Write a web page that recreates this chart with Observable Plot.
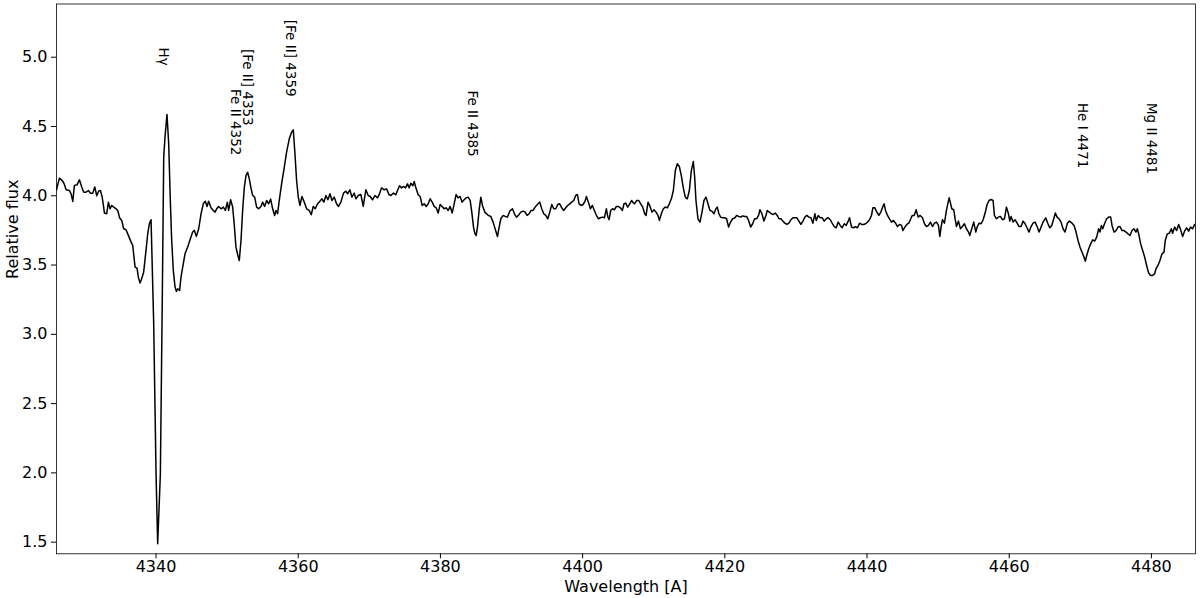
<!DOCTYPE html>
<html><head><meta charset="utf-8">
<script src="https://cdn.jsdelivr.net/npm/d3@7"></script>
<script src="https://cdn.jsdelivr.net/npm/@observablehq/plot@0.6"></script>
<style>html,body{margin:0;padding:0;background:#fff;}</style>
</head><body><div id="chart"></div>
<script>
// [wavelength (Å), relative flux]
const spectrum = [
[4326.0,4.043],[4326.41,4.127],[4326.88,4.106],[4327.11,4.082],[4327.35,4.043],[4327.82,4.038],[4328.05,4.014],[4328.29,3.959],[4328.52,4.075],[4328.89,4.079],[4329.22,4.115],[4329.55,4.063],[4329.83,4.026],[4330.16,4.026],[4330.49,4.038],[4330.77,4.019],[4331.10,4.019],[4331.38,4.063],[4331.66,4.000],[4331.94,4.034],[4332.17,4.038],[4332.41,3.995],[4332.60,3.930],[4332.74,3.875],[4333.06,3.870],[4333.30,3.954],[4333.53,3.906],[4333.77,3.930],[4334.05,3.918],[4334.38,3.906],[4334.61,3.894],[4334.89,3.839],[4335.17,3.822],[4335.45,3.762],[4335.78,3.755],[4336.11,3.714],[4336.39,3.678],[4336.72,3.642],[4337.05,3.485],[4337.33,3.478],[4337.51,3.413],[4337.75,3.370],[4337.98,3.401],[4338.26,3.449],[4338.59,3.606],[4338.83,3.726],[4339.06,3.798],[4339.30,3.827],[4339.67,3.076],[4340.00,1.994],[4340.23,1.489],[4340.61,1.994],[4340.89,3.317],[4341.08,4.279],[4341.26,4.423],[4341.54,4.587],[4341.78,4.375],[4342.01,3.966],[4342.20,3.678],[4342.43,3.461],[4342.67,3.341],[4342.86,3.310],[4343.04,3.329],[4343.32,3.317],[4343.51,3.413],[4343.75,3.485],[4344.08,3.582],[4344.45,3.630],[4344.83,3.690],[4345.15,3.738],[4345.39,3.750],[4345.67,3.707],
[4346.00,3.762],[4346.33,3.870],[4346.65,3.942],[4346.93,3.961],[4347.17,3.923],[4347.40,3.961],[4347.73,3.913],[4347.96,3.899],[4348.29,3.882],[4348.53,3.906],[4348.81,3.923],[4349.14,3.906],[4349.46,3.918],[4349.75,3.894],[4350.03,3.954],[4350.21,3.894],[4350.49,3.971],[4350.78,3.918],[4351.01,3.786],[4351.24,3.629],[4351.48,3.576],[4351.71,3.533],[4351.95,3.677],[4352.18,3.894],[4352.42,4.062],[4352.65,4.146],[4352.88,4.170],[4353.12,4.122],[4353.35,4.057],[4353.59,4.002],[4353.87,3.990],[4354.15,3.918],[4354.43,3.906],[4354.76,3.923],[4354.99,3.954],[4355.27,3.923],[4355.55,3.966],[4355.83,3.942],[4356.12,3.976],[4356.40,3.906],[4356.68,3.858],[4356.87,3.894],[4357.10,3.870],[4357.33,3.966],[4357.66,4.086],[4358.04,4.206],[4358.36,4.315],[4358.74,4.411],[4359.07,4.459],[4359.30,4.476],[4359.54,4.303],[4359.77,4.110],[4360.01,3.990],[4360.24,3.930],[4360.52,3.995],[4360.85,3.954],[4361.18,3.906],[4361.55,3.894],[4361.83,3.863],[4362.11,3.923],[4362.39,3.906],[4362.72,3.942],[4363.05,3.961],[4363.33,3.978],[4363.61,3.954],[4363.89,4.002],[4364.17,3.971],[4364.46,4.014],[4364.74,3.966],[4365.07,3.990],[4365.39,3.942],[4365.67,3.923],[4366.00,3.954],
[4366.37,4.019],[4366.70,4.033],[4366.94,4.014],[4367.26,4.043],[4367.55,3.990],[4367.87,4.019],[4368.11,3.978],[4368.44,4.002],[4368.81,4.009],[4369.14,3.923],[4369.51,4.043],[4369.84,4.002],[4370.12,3.995],[4370.45,3.971],[4370.78,4.002],[4371.15,3.985],[4371.43,4.014],[4371.72,4.057],[4372.09,4.043],[4372.42,4.050],[4372.75,4.009],[4373.03,4.002],[4373.40,4.019],[4373.73,4.007],[4373.96,4.038],[4374.25,4.072],[4374.53,4.057],[4374.81,4.067],[4375.09,4.057],[4375.37,4.086],[4375.60,4.057],[4375.84,4.091],[4376.12,4.072],[4376.31,4.103],[4376.59,4.050],[4376.87,4.007],[4377.15,3.995],[4377.43,3.930],[4377.71,3.942],[4378.00,3.923],[4378.28,3.942],[4378.56,3.978],[4378.84,3.954],[4379.12,3.923],[4379.40,3.913],[4379.68,3.875],[4379.96,3.937],[4380.24,3.923],[4380.52,3.906],[4380.80,3.913],[4381.09,3.894],[4381.37,3.923],[4381.65,3.875],[4381.93,3.942],[4382.21,4.009],[4382.49,3.985],[4382.77,3.995],[4383.05,3.954],[4383.33,3.971],[4383.62,3.985],[4383.90,3.990],[4384.18,3.966],[4384.41,3.882],[4384.65,3.774],[4384.83,3.730],[4385.02,3.713],[4385.21,3.774],[4385.44,3.894],[4385.68,3.990],[4385.91,3.930],[4386.24,3.882],
[4386.76,3.858],[4387.08,3.851],[4387.41,3.810],[4387.69,3.762],[4388.02,3.706],[4388.26,3.774],[4388.49,3.834],[4388.82,3.858],[4389.10,3.851],[4389.43,3.846],[4389.75,3.889],[4390.13,3.906],[4390.41,3.870],[4390.69,3.846],[4390.97,3.858],[4391.30,3.882],[4391.63,3.889],[4391.91,3.882],[4392.19,3.858],[4392.47,3.870],[4392.75,3.894],[4393.03,3.894],[4393.32,3.918],[4393.64,3.937],[4393.97,3.954],[4394.25,3.906],[4394.53,3.870],[4394.81,3.858],[4395.10,3.834],[4395.38,3.882],[4395.66,3.937],[4395.94,3.906],[4396.22,3.906],[4396.50,3.937],[4396.78,3.942],[4397.06,3.913],[4397.34,3.894],[4397.62,3.913],[4397.91,3.930],[4398.19,3.942],[4398.47,3.954],[4398.75,3.966],[4399.03,4.002],[4399.27,4.009],[4399.50,3.942],[4399.78,3.930],[4400.06,3.937],[4400.34,3.961],[4400.53,3.995],[4400.81,3.954],[4401.09,3.906],[4401.37,3.930],[4401.65,3.894],[4401.94,3.858],[4402.22,3.834],[4402.50,3.841],[4402.78,3.846],[4403.06,3.841],[4403.34,3.906],[4403.53,3.851],[4403.72,3.827],[4403.95,3.894],[4404.19,3.906],[4404.47,3.899],[4404.75,3.923],[4405.03,3.923],[4405.31,3.913],[4405.59,3.894],[4405.82,3.942],[4406.06,3.947],[4406.34,3.918],[4406.62,3.942],[4406.90,3.966],
[4407.04,3.954],[4407.32,3.942],[4407.60,3.966],[4407.88,3.966],[4408.17,3.942],[4408.45,3.918],[4408.73,3.870],[4408.92,3.858],[4409.20,3.954],[4409.48,3.923],[4409.76,3.882],[4410.04,3.899],[4410.32,3.882],[4410.60,3.858],[4410.79,3.822],[4411.07,3.870],[4411.35,3.906],[4411.63,3.918],[4411.91,3.913],[4412.19,3.942],[4412.48,3.978],[4412.76,4.038],[4413.04,4.182],[4413.32,4.231],[4413.60,4.211],[4413.88,4.146],[4414.16,4.057],[4414.44,3.990],[4414.72,3.978],[4415.01,4.038],[4415.29,4.182],[4415.57,4.247],[4415.76,4.134],[4415.94,3.966],[4416.22,3.834],[4416.50,3.810],[4416.79,3.882],[4417.07,3.966],[4417.35,3.990],[4417.63,3.942],[4417.91,3.894],[4418.19,3.889],[4418.47,3.870],[4418.75,3.906],[4418.94,3.918],[4419.17,3.870],[4419.41,3.846],[4419.69,3.841],[4419.97,3.841],[4420.25,3.834],[4420.53,3.774],[4420.81,3.810],[4421.10,3.834],[4421.38,3.839],[4421.66,3.858],[4421.94,3.851],[4422.22,3.846],[4422.50,3.855],[4422.78,3.851],[4423.06,3.851],[4423.34,3.822],[4423.63,3.774],[4423.91,3.798],[4424.19,3.834],[4424.47,3.834],[4424.75,3.858],[4424.94,3.899],[4425.22,3.870],[4425.50,3.817],[4425.78,3.858],[4425.97,3.894],[4426.25,3.882],[4426.53,3.870],[4426.81,3.865],[4427.09,3.875],
[4427.37,3.858],[4427.61,3.834],[4427.89,3.834],[4428.17,3.817],[4428.45,3.802],[4428.73,3.793],[4429.01,3.802],[4429.30,3.827],[4429.58,3.841],[4429.86,3.841],[4430.14,3.841],[4430.42,3.817],[4430.70,3.793],[4430.98,3.817],[4431.26,3.846],[4431.54,3.858],[4431.82,3.846],[4432.11,3.841],[4432.39,3.802],[4432.67,3.870],[4432.86,3.822],[4433.14,3.858],[4433.42,3.841],[4433.70,3.841],[4433.98,3.817],[4434.26,3.834],[4434.54,3.841],[4434.82,3.827],[4435.10,3.802],[4435.39,3.778],[4435.67,3.769],[4435.95,3.810],[4436.23,3.786],[4436.51,3.769],[4436.79,3.798],[4437.07,3.786],[4437.35,3.817],[4437.54,3.841],[4437.82,3.774],[4438.10,3.769],[4438.38,3.778],[4438.66,3.769],[4438.95,3.802],[4439.23,3.793],[4439.51,3.793],[4439.79,3.798],[4440.07,3.810],[4440.35,3.827],[4440.63,3.858],[4440.82,3.913],[4441.10,3.913],[4441.38,3.882],[4441.66,3.858],[4441.94,3.882],[4442.23,3.923],[4442.41,3.942],[4442.60,3.894],[4442.88,3.858],[4443.16,3.834],[4443.44,3.810],[4443.72,3.822],[4444.01,3.802],[4444.29,3.778],[4444.57,3.793],[4444.85,3.786],[4445.04,3.749],[4445.32,3.774],[4445.60,3.793],[4445.88,3.802],[4446.16,3.834],[4446.35,3.858],[4446.63,3.858],[4446.91,3.899],[4447.19,3.846],[4447.47,3.858],
[4447.80,3.841],[4448.08,3.798],[4448.36,3.778],[4448.64,3.786],[4448.92,3.810],[4449.21,3.778],[4449.49,3.802],[4449.77,3.810],[4450.05,3.786],[4450.24,3.706],[4450.42,3.774],[4450.61,3.827],[4450.89,3.802],[4451.17,3.894],[4451.36,3.942],[4451.55,3.985],[4451.74,3.947],[4451.92,3.906],[4452.20,3.899],[4452.39,3.834],[4452.58,3.778],[4452.86,3.817],[4453.14,3.762],[4453.42,3.778],[4453.70,3.798],[4453.98,3.762],[4454.27,3.738],[4454.45,3.713],[4454.73,3.762],[4455.01,3.810],[4455.30,3.738],[4455.48,3.774],[4455.76,3.802],[4456.05,3.798],[4456.33,3.827],[4456.61,3.875],[4456.89,3.937],[4457.17,3.966],[4457.45,3.973],[4457.73,3.966],[4457.92,3.858],[4458.20,3.834],[4458.48,3.846],[4458.76,3.851],[4459.04,3.827],[4459.33,3.834],[4459.61,3.918],[4459.89,3.870],[4460.08,3.817],[4460.26,3.851],[4460.54,3.810],[4460.82,3.827],[4461.11,3.802],[4461.39,3.778],[4461.67,3.778],[4461.95,3.817],[4462.23,3.798],[4462.51,3.769],[4462.79,3.738],[4463.07,3.778],[4463.35,3.802],[4463.64,3.810],[4463.92,3.778],[4464.20,3.738],[4464.48,3.774],[4464.76,3.810],[4465.13,3.841],[4465.42,3.802],[4465.70,3.769],[4465.98,3.786],[4466.26,3.834],[4466.49,3.875],[4466.73,3.846],[4467.01,3.834],[4467.29,3.810],[4467.57,3.762],[4467.85,3.738],
[4468.18,3.802],[4468.46,3.817],[4468.84,3.802],[4469.12,3.786],[4469.40,3.738],[4469.68,3.677],[4469.96,3.629],[4470.24,3.593],[4470.52,3.557],[4470.71,3.528],[4470.90,3.569],[4471.18,3.617],[4471.46,3.653],[4471.74,3.682],[4472.02,3.673],[4472.30,3.701],[4472.58,3.762],[4472.77,3.738],[4472.96,3.786],[4473.15,3.762],[4473.43,3.802],[4473.71,3.834],[4473.99,3.846],[4474.27,3.846],[4474.46,3.786],[4474.74,3.738],[4475.02,3.749],[4475.30,3.774],[4475.58,3.778],[4475.86,3.749],[4476.15,3.749],[4476.43,3.738],[4476.71,3.725],[4476.99,3.713],[4477.27,3.749],[4477.55,3.762],[4477.83,3.738],[4478.02,3.762],[4478.21,3.725],[4478.49,3.653],[4478.77,3.605],[4479.05,3.557],[4479.33,3.497],[4479.61,3.442],[4479.89,3.425],[4480.17,3.425],[4480.46,3.437],[4480.64,3.473],[4480.92,3.497],[4481.20,3.533],[4481.49,3.581],[4481.77,3.593],[4481.95,3.677],[4482.23,3.725],[4482.52,3.730],[4482.80,3.762],[4482.98,3.730],[4483.27,3.774],[4483.55,3.749],[4483.83,3.793],[4484.11,3.754],[4484.39,3.706],[4484.67,3.745],[4484.95,3.769],[4485.23,3.745],[4485.51,3.774],[4485.79,3.762],[4486.08,3.793]
];

// line identifications
const lineLabels = ["Hγ", "[Fe II] 4353", "Fe II 4352", "[Fe II] 4359", "Fe II 4385", "He I 4471", "Mg II 4481"];
const labelWavelength = [4340.98, 4352.79, 4351.10, 4358.83, 4384.55, 4470.29, 4479.99];
const labelFlux = [5.07, 5.06, 4.77, 5.27, 4.76, 4.67, 4.67];

// axes
const xTicks = [4340, 4360, 4380, 4400, 4420, 4440, 4460, 4480];
const yTicks = [1.5, 2.0, 2.5, 3.0, 3.5, 4.0, 4.5, 5.0];
const xLabel = "Wavelength [A]";
const yLabel = "Relative flux";

const data = spectrum.map(([w, f]) => ({w, f}));
const labels = lineLabels.map((t, i) => ({t, x: labelWavelength[i], y: labelFlux[i]}));

const chart = Plot.plot({
  width: 1200,
  height: 598,
  marginLeft: 56,
  marginRight: 5,
  marginTop: 3.5,
  marginBottom: 44.7,
  style: {fontFamily: "'DejaVu Sans', sans-serif", fontSize: "16px", background: "#fff", color: "#000"},
  x: {domain: [4326.0, 4486.2]},
  y: {domain: [1.416, 5.384]},
  marks: [
    Plot.line(data, {x: "w", y: "f", stroke: "#000", strokeWidth: 1.5, clip: true}),
    Plot.frame({stroke: "#000", strokeWidth: 0.8}),
    Plot.axisX({ticks: xTicks, tickSize: 5, tickPadding: 2, tickFormat: d => String(d), label: null, fontSize: 16}),
    Plot.axisY({ticks: yTicks, tickSize: 5, tickPadding: 4, tickFormat: d3.format(".1f"), label: null, fontSize: 16}),
    Plot.text(labels, {x: "x", y: "y", text: "t", rotate: 90, textAnchor: "start", lineAnchor: "middle", fontSize: 13.5, fill: "#000"}),
    Plot.text([xLabel], {text: d => d, frameAnchor: "bottom", dy: 33, lineAnchor: "middle", fontSize: 16, fill: "#000"}),
    Plot.text([yLabel], {text: d => d, frameAnchor: "left", dx: -44, rotate: -90, lineAnchor: "middle", fontSize: 16, fill: "#000"})
  ]
});
document.getElementById("chart").appendChild(chart);
</script>
</body></html>
